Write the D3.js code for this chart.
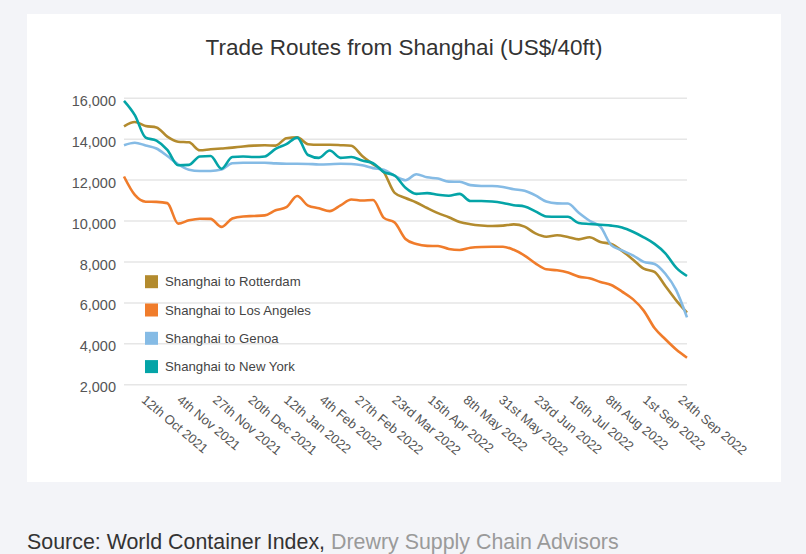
<!DOCTYPE html>
<html>
<head>
<meta charset="utf-8">
<script src="https://cdn.jsdelivr.net/npm/d3@7"></script>
<style>
  body { margin: 0; background: #f3f4f8; }
  svg { display: block; font-family: "Liberation Sans", Arial, sans-serif; }
</style>
</head>
<body>
<svg id="chart" width="806" height="554"></svg>
<script>
// weekly values (US$/40ft)
var rotterdam = [14600, 14810, 14620, 14550, 14100, 13850, 13820, 13430, 13480, 13520, 13560, 13620, 13660, 13675, 13660, 14020, 14060, 13730, 13700, 13700, 13680, 13650, 13150, 12750, 12360, 11350, 11100, 10880, 10610, 10360, 10160, 9930, 9820, 9760, 9730, 9750, 9810, 9700, 9370, 9210, 9280, 9200, 9080, 9180, 8950, 8850, 8520, 8100, 7650, 7490, 6800, 6100, 5500];
var losAngeles = [12150, 11250, 10920, 10910, 10850, 9850, 10010, 10090, 10080, 9690, 10100, 10200, 10220, 10250, 10500, 10650, 11200, 10730, 10600, 10460, 10740, 11030, 10980, 11000, 10130, 9900, 9100, 8850, 8760, 8755, 8610, 8560, 8670, 8710, 8720, 8720, 8570, 8290, 7910, 7620, 7570, 7460, 7260, 7180, 7000, 6850, 6530, 6160, 5600, 4750, 4200, 3700, 3300];
var genoa = [13680, 13800, 13670, 13520, 13150, 12750, 12480, 12420, 12420, 12490, 12800, 12825, 12820, 12820, 12790, 12775, 12775, 12765, 12740, 12750, 12770, 12760, 12700, 12560, 12480, 12180, 11970, 12260, 12110, 12050, 11900, 11895, 11730, 11690, 11685, 11640, 11530, 11450, 11230, 10930, 10840, 10830, 10380, 9990, 9700, 8800, 8540, 8300, 7980, 7880, 7400, 6600, 5270];
var newYork = [15850, 15150, 14050, 13900, 13450, 12700, 12720, 13130, 13150, 12530, 13100, 13130, 13100, 13130, 13500, 13730, 14050, 13200, 13060, 13420, 13060, 13100, 12930, 12800, 12370, 12200, 11600, 11300, 11340, 11260, 11210, 11300, 10955, 10955, 10930, 10860, 10750, 10690, 10450, 10200, 10185, 10185, 9880, 9830, 9790, 9750, 9660, 9450, 9180, 8860, 8400, 7700, 7290];

var seriesNames = ['Shanghai to Rotterdam', 'Shanghai to Los Angeles', 'Shanghai to Genoa', 'Shanghai to New York'];
var seriesColors = ['#b38b2e', '#f07c2b', '#85bbe5', '#04a4a7'];

var tickDates = ['2021-10-12', '2021-11-04', '2021-11-27', '2021-12-20', '2022-01-12', '2022-02-04', '2022-02-27', '2022-03-23', '2022-04-15', '2022-05-08', '2022-05-31', '2022-06-23', '2022-07-16', '2022-08-08', '2022-09-01', '2022-09-24'];
var tickLabels = ['12th Oct 2021', '4th Nov 2021', '27th Nov 2021', '20th Dec 2021', '12th Jan 2022', '4th Feb 2022', '27th Feb 2022', '23rd Mar 2022', '15th Apr 2022', '8th May 2022', '31st May 2022', '23rd Jun 2022', '16th Jul 2022', '8th Aug 2022', '1st Sep 2022', '24th Sep 2022'];
var yTicks = [2000, 4000, 6000, 8000, 10000, 12000, 14000, 16000];

var parse = d3.utcParse('%Y-%m-%d');
var firstDate = parse('2021-09-25');
var lastDate = parse('2022-09-24');
// one reading per week
var weeks = d3.utcDay.range(firstDate, d3.utcDay.offset(lastDate, 1), 7);

var plot = { left: 124, right: 687, top: 97.7, bottom: 384.3 };

var svg = d3.select('#chart');

// white card
svg.append('rect')
  .attr('x', 27)
  .attr('y', 14)
  .attr('width', 754)
  .attr('height', 468)
  .attr('fill', '#fff');

svg.append('text')
  .attr('x', 404)
  .attr('y', 54.5)
  .attr('text-anchor', 'middle')
  .style('font-size', '22.5px')
  .attr('fill', '#333')
  .text('Trade Routes from Shanghai (US$/40ft)');

var xScale = d3.scaleUtc()
  .domain([firstDate, lastDate])
  .range([plot.left, plot.right]);

var yScale = d3.scaleLinear()
  .domain([2000, 16000])
  .range([plot.bottom, plot.top]);

// y axis with gridlines
var yAxis = d3.axisLeft(yScale)
  .tickValues(yTicks)
  .tickSize(-(plot.right - plot.left))
  .tickPadding(8)
  .tickFormat(d3.format(','));

var yG = svg.append('g')
  .attr('transform', 'translate(' + plot.left + ',0)')
  .call(yAxis);
yG.select('.domain').remove();
yG.selectAll('line')
  .attr('stroke', '#e6e6e6')
  .attr('stroke-width', 1.5);
yG.selectAll('text')
  .attr('dy', '0.52em')
  .attr('fill', '#555')
  .style('font-size', '14.5px')
  .style('font-family', '"Liberation Sans", Arial, sans-serif');

// x axis, labels only
var xAxis = d3.axisBottom(xScale)
  .tickValues(tickDates.map(parse))
  .tickSize(0)
  .tickFormat((d, i) => tickLabels[i]);

var xG = svg.append('g')
  .attr('transform', 'translate(0,' + plot.bottom + ')')
  .call(xAxis);
xG.select('.domain').remove();
xG.selectAll('text')
  .attr('x', 0)
  .attr('y', 0)
  .attr('dy', 0)
  .style('text-anchor', 'start')
  .attr('transform', 'translate(-10,17) rotate(40)')
  .attr('fill', '#555')
  .style('font-size', '13px')
  .style('font-family', '"Liberation Sans", Arial, sans-serif');

var allSeries = [rotterdam, losAngeles, genoa, newYork];

var line = d3.line()
  .x((d, i) => xScale(weeks[i]))
  .y(d => yScale(d))
  .curve(d3.curveMonotoneX);

svg.append('g')
  .selectAll('path')
  .data(allSeries)
  .enter()
  .append('path')
    .attr('d', d => line(d))
    .attr('fill', 'none')
    .attr('stroke', (d, i) => seriesColors[i])
    .attr('stroke-width', 2.6)
    .attr('stroke-linejoin', 'round');

// legend inside the plot
var legend = svg.append('g')
  .selectAll('g')
  .data(seriesNames)
  .enter()
  .append('g')
    .attr('transform', (d, i) => 'translate(145,' + (281.7 + i * 28.3) + ')');

legend.append('rect')
  .attr('x', 0)
  .attr('y', -6.5)
  .attr('width', 13)
  .attr('height', 13)
  .attr('fill', (d, i) => seriesColors[i]);

legend.append('text')
  .attr('x', 20)
  .attr('y', 4.5)
  .style('font-size', '13.2px')
  .attr('fill', '#444')
  .text(d => d);

// source line under the card
var source = svg.append('text')
  .attr('x', 27)
  .attr('y', 549)
  .style('font-size', '21.4px');
source.append('tspan').attr('fill', '#333').text('Source: World Container Index, ');
source.append('tspan').attr('fill', '#9a9a9a').text('Drewry Supply Chain Advisors');
</script>
</body>
</html>
